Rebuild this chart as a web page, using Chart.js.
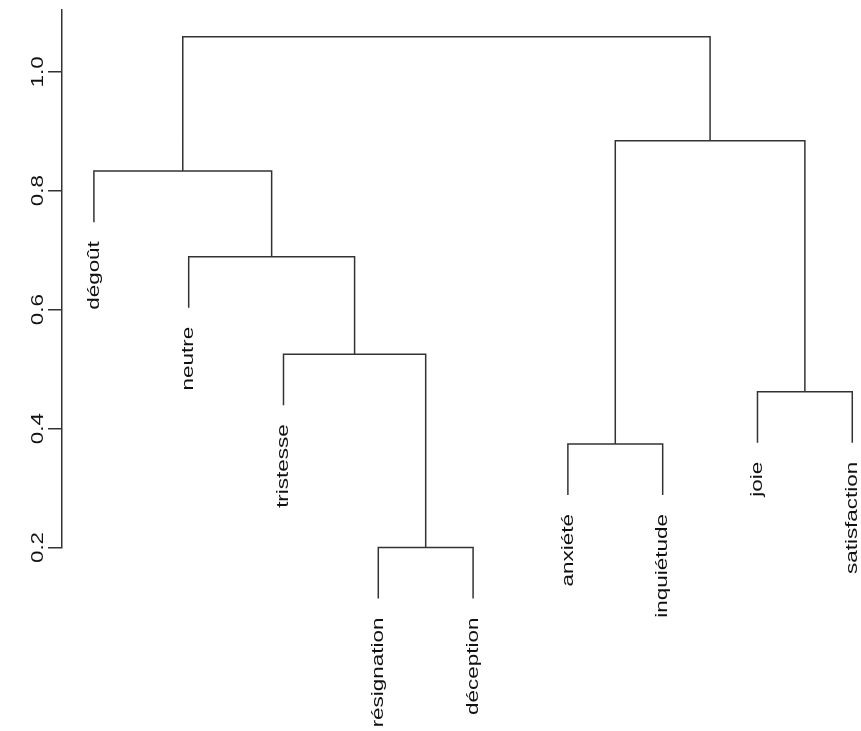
<!DOCTYPE html>
<html>
<head>
<meta charset="utf-8">
<script src="https://cdn.jsdelivr.net/npm/chart.js@4.4.1/dist/chart.umd.min.js"></script>
<style>
  html, body { margin: 0; padding: 0; background: #ffffff; }
  #wrap { width: 861px; height: 731px; }
</style>
</head>
<body>
<div id="wrap"><canvas id="c" width="861" height="731"></canvas></div>
<script>
// ---- Data ----
const leafLabels = ['dégoût', 'neutre', 'tristesse', 'résignation', 'déception',
                    'anxiété', 'inquiétude', 'joie', 'satisfaction'];
// R-style merge table: negative = leaf index (1-based), positive = earlier merge step
const mergeLeft    = [-4, -6, -8, -3, -2, -1, 2, 6];
const mergeRight   = [-5, -7, -9,  1,  4,  5, 3, 7];
const mergeHeights = [0.200, 0.374, 0.462, 0.525, 0.689, 0.833, 0.884, 1.059];
const yTickValues  = [0.2, 0.4, 0.6, 0.8, 1.0];

// ---- Build segments from the tree ----
const hang = 0.1 * (Math.max(...mergeHeights) - Math.min(...mergeHeights));
const nodeX = [];
function childInfo(ref, h) {
  if (ref < 0) return { x: -ref, y: h - hang };
  return { x: nodeX[ref - 1], y: mergeHeights[ref - 1] };
}
const leafHeights = new Array(leafLabels.length).fill(0);
const datasets = [];
for (let k = 0; k < mergeHeights.length; k++) {
  const h = mergeHeights[k];
  const L = childInfo(mergeLeft[k], h);
  const R = childInfo(mergeRight[k], h);
  if (mergeLeft[k] < 0) leafHeights[-mergeLeft[k] - 1] = L.y;
  if (mergeRight[k] < 0) leafHeights[-mergeRight[k] - 1] = R.y;
  nodeX[k] = (L.x + R.x) / 2;
  datasets.push({
    data: [{ x: L.x, y: L.y }, { x: L.x, y: h }, { x: R.x, y: h }, { x: R.x, y: R.y }],
    showLine: true,
    borderColor: '#333333',
    borderWidth: 1.5,
    pointRadius: 0,
    pointHoverRadius: 0,
    tension: 0,
    fill: false,
    clip: false
  });
}

const FONT = '17px "Liberation Sans", Arial, Helvetica, sans-serif';
const STRETCH = 1.32;
const TEXT_COLOR = '#111111';

function drawRotated(ctx, text, x, y, align, baseline) {
  ctx.save();
  ctx.translate(x, y);
  ctx.rotate(-Math.PI / 2);
  ctx.scale(STRETCH, 1);
  ctx.font = FONT;
  ctx.fillStyle = TEXT_COLOR;
  ctx.textAlign = align;
  ctx.textBaseline = baseline;
  ctx.fillText(text, 0, 0);
  ctx.restore();
}

const bgPlugin = {
  id: 'bg',
  beforeDraw(chart) {
    const ctx = chart.ctx;
    ctx.save();
    ctx.fillStyle = '#ffffff';
    ctx.fillRect(0, 0, chart.width, chart.height);
    ctx.restore();
  }
};

const labelPlugin = {
  id: 'labels',
  afterDraw(chart) {
    const ctx = chart.ctx;
    const xs = chart.scales.x, ys = chart.scales.y;
    // y tick labels
    ys.ticks.forEach(t => {
      const py = ys.getPixelForValue(t.value);
      drawRotated(ctx, Number(t.value).toFixed(1), 43, py, 'center', 'alphabetic');
    });
    // leaf labels
    leafLabels.forEach((lab, i) => {
      const px = xs.getPixelForValue(i + 1);
      const py = ys.getPixelForValue(leafHeights[i]) + 19;
      drawRotated(ctx, lab, px, py, 'right', 'middle');
    });
  }
};

new Chart(document.getElementById('c'), {
  type: 'scatter',
  data: { datasets },
  options: {
    responsive: false,
    devicePixelRatio: 1,
    animation: false,
    events: [],
    layout: { padding: { left: 0, right: 0, top: 10, bottom: 183.5 } },
    plugins: { legend: { display: false }, tooltip: { enabled: false } },
    scales: {
      x: {
        type: 'linear',
        display: false,
        min: 0.6635,
        max: 9.092
      },
      y: {
        type: 'linear',
        min: 0.2,
        max: 1.1039,
        afterBuildTicks(scale) {
          scale.ticks = yTickValues.map(v => ({ value: v }));
        },
        afterFit(scale) { scale.width = 62; },
        ticks: { display: false, includeBounds: false },
        grid: {
          display: true,
          drawOnChartArea: false,
          drawTicks: true,
          tickLength: 14,
          color: '#333333',
          lineWidth: 1.5
        },
        border: { display: true, color: '#333333', width: 1.5 }
      }
    }
  },
  plugins: [bgPlugin, labelPlugin]
});
</script>
</body>
</html>
